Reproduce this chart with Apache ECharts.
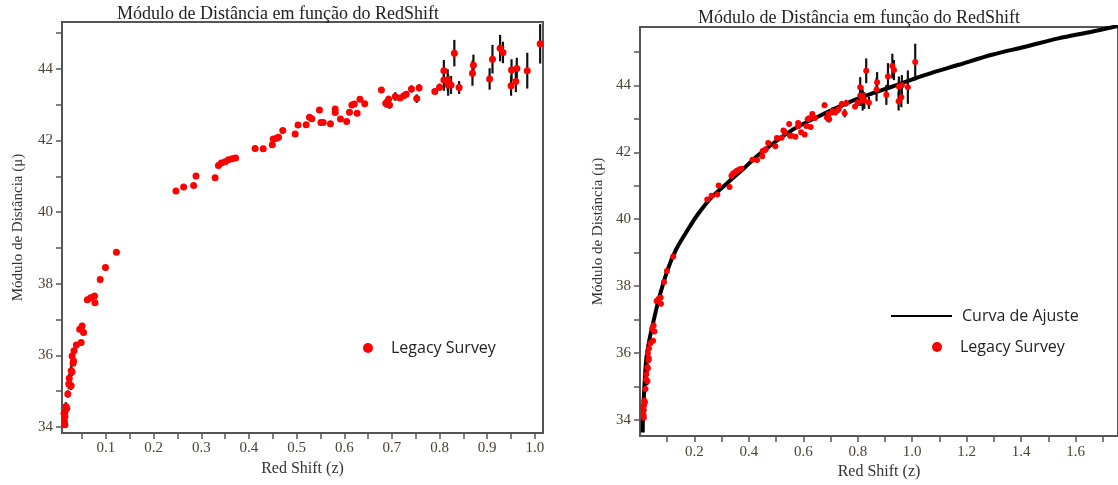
<!DOCTYPE html>
<html>
<head>
<meta charset="utf-8">
<title>Módulo de Distância em função do RedShift</title>
<script src="https://cdn.jsdelivr.net/npm/echarts@6/dist/echarts.min.js"></script>
<style>
  html, body { margin: 0; padding: 0; background: #fff; }
  #chart { width: 1118px; height: 485px; }
</style>
</head>
<body>
<div id="chart"></div>
<script>
// Legacy Survey sample
const redshift = [
  0.012, 0.013, 0.014, 0.014, 0.014, 0.016, 0.018, 0.020, 0.022, 0.023,
  0.027, 0.027, 0.029, 0.029, 0.031, 0.032, 0.033, 0.038, 0.045, 0.048,
  0.050, 0.053, 0.061, 0.068, 0.076, 0.077, 0.088, 0.099, 0.122,
  0.247, 0.263, 0.284, 0.289, 0.329, 0.336, 0.342, 0.350, 0.357, 0.365,
  0.372, 0.413, 0.430, 0.449, 0.451, 0.458, 0.462, 0.471, 0.497, 0.503,
  0.520, 0.527, 0.532, 0.548, 0.551, 0.556, 0.571, 0.581, 0.581, 0.592,
  0.605, 0.611, 0.616, 0.621, 0.627, 0.633, 0.643,
  0.678, 0.687, 0.693, 0.695, 0.707, 0.717, 0.725, 0.730, 0.741, 0.752,
  0.757, 0.790, 0.800, 0.809, 0.809, 0.817, 0.818, 0.824, 0.831, 0.841,
  0.869, 0.871, 0.905, 0.911, 0.927, 0.933, 0.950, 0.951, 0.960, 0.962,
  0.984, 1.011,
];
const distMod = [
  34.38, 34.15, 34.06, 34.29, 34.43, 34.57, 34.52, 34.92, 35.20, 35.36,
  35.15, 35.57, 35.54, 35.98, 35.78, 35.84, 36.13, 36.29, 36.73, 36.36,
  36.82, 36.64, 37.55, 37.61, 37.66, 37.47, 38.12, 38.45, 38.88,
  40.59, 40.70, 40.74, 41.01, 40.96, 41.30, 41.37, 41.41, 41.46, 41.49,
  41.51, 41.78, 41.77, 41.88, 42.04, 42.06, 42.09, 42.28, 42.18, 42.43,
  42.44, 42.65, 42.61, 42.85, 42.50, 42.50, 42.47, 42.88, 42.78, 42.60,
  42.53, 42.79, 42.99, 43.02, 42.76, 43.15, 43.03,
  43.41, 43.04, 43.15, 42.99, 43.23, 43.19, 43.25, 43.29, 43.44, 43.17,
  43.47, 43.37, 43.49, 43.95, 43.69, 43.69, 43.55, 43.55, 44.44, 43.48,
  43.88, 44.10, 43.72, 44.27, 44.58, 44.46, 43.53, 43.97, 43.65, 44.01,
  43.95, 44.70,
];
// half length of the error bars (0 = none visible)
const distErr = [
  0, 0, 0, 0, 0, 0.12, 0, 0.1, 0.15, 0.12,
  0.12, 0.15, 0.12, 0, 0, 0, 0, 0, 0, 0,
  0, 0, 0, 0, 0, 0, 0, 0, 0,
  0, 0, 0, 0, 0, 0, 0, 0, 0, 0,
  0, 0, 0, 0, 0, 0, 0, 0, 0, 0,
  0, 0, 0, 0, 0, 0, 0, 0, 0, 0,
  0, 0, 0, 0, 0, 0, 0,
  0.08, 0.12, 0.1, 0.1, 0.12, 0.08, 0.08, 0.08, 0.1, 0.12,
  0.1, 0.08, 0.1, 0.3, 0.3, 0.3, 0.3, 0.25, 0.37, 0.18,
  0.35, 0.3, 0.3, 0.4, 0.37, 0.3, 0.28, 0.3, 0.3, 0.3,
  0.5, 0.55,
];

// fitted curve (right panel)
const fitZ = [
  0.010, 0.011, 0.017, 0.023, 0.035, 0.054, 0.072, 0.102, 0.133, 0.176,
  0.212, 0.261, 0.322, 0.383, 0.439, 0.561, 0.683, 0.805, 0.927, 1.049,
  1.171, 1.293, 1.415, 1.537, 1.659, 1.756,
];
const fitMu = [
  33.62, 34.12, 35.12, 35.81, 36.41, 37.10, 37.70, 38.50, 39.10, 39.69,
  40.14, 40.64, 41.09, 41.53, 41.95, 42.68, 43.18, 43.62, 43.97, 44.32,
  44.62, 44.92, 45.16, 45.41, 45.61, 45.78,
];

// ticks and labels
const leftXTicks = [0.05, 0.1, 0.15, 0.2, 0.25, 0.3, 0.35, 0.4, 0.45, 0.5, 0.55, 0.6, 0.65, 0.7, 0.75, 0.8, 0.85, 0.9, 0.95, 1.0];
const leftXLabels = [0.1, 0.2, 0.3, 0.4, 0.5, 0.6, 0.7, 0.8, 0.9, 1.0];
const rightXTicks = [0.1, 0.2, 0.3, 0.4, 0.5, 0.6, 0.7, 0.8, 0.9, 1.0, 1.1, 1.2, 1.3, 1.4, 1.5, 1.6, 1.7];
const rightXLabels = [0.2, 0.4, 0.6, 0.8, 1.0, 1.2, 1.4, 1.6];
const yTicks = [34, 35, 36, 37, 38, 39, 40, 41, 42, 43, 44, 45];
const yLabels = [34, 36, 38, 40, 42, 44];

const titleText = "Módulo de Distância em função do RedShift";
const xName = "Red Shift (z)";
const yName = "Módulo de Distância (μ)";

const points = redshift.map((z, i) => [z, distMod[i]]);
const errBars = [];
redshift.forEach((z, i) => {
  if (distErr[i] > 0) {
    errBars.push([z, distMod[i] - distErr[i], distMod[i] + distErr[i]]);
  }
});
const fitLine = fitZ.map((z, i) => [z, fitMu[i]]);

const serif = "Liberation Serif";
const axisColor = "#555";
const labelColor = "#4a4236";
const legendFont = { fontFamily: "Open Sans", fontSize: 16, color: "#222" };

function xAxisOpt(gridIndex, min, max, ticks, labels) {
  return {
    type: "value",
    gridIndex: gridIndex,
    min: min,
    max: max,
    name: xName,
    nameLocation: "middle",
    nameGap: 27,
    nameTextStyle: { fontFamily: serif, fontSize: 16, color: "#333" },
    axisLine: { lineStyle: { color: axisColor, width: 2 } },
    axisTick: { customValues: ticks, length: 6, lineStyle: { color: axisColor, width: 1.5 } },
    axisLabel: {
      customValues: labels,
      margin: 8,
      formatter: (v) => v.toFixed(1),
      fontFamily: serif,
      fontSize: 15,
      color: labelColor,
    },
    splitLine: { show: false },
  };
}

function yAxisOpt(gridIndex, min, max, gap) {
  return {
    type: "value",
    gridIndex: gridIndex,
    min: min,
    max: max,
    name: yName,
    nameLocation: "middle",
    nameGap: gap,
    nameTextStyle: { fontFamily: serif, fontSize: 15, color: "#333" },
    axisLine: { lineStyle: { color: axisColor, width: 2 } },
    axisTick: { customValues: yTicks, length: 6, lineStyle: { color: axisColor, width: 1.5 } },
    axisLabel: {
      customValues: yLabels,
      margin: 9,
      fontFamily: serif,
      fontSize: 15,
      color: labelColor,
    },
    splitLine: { show: false },
  };
}

function errRender(params, api) {
  const top = api.coord([api.value(0), api.value(2)]);
  const bottom = api.coord([api.value(0), api.value(1)]);
  return {
    type: "line",
    shape: { x1: top[0], y1: top[1], x2: bottom[0], y2: bottom[1] },
    style: { stroke: "#111", lineWidth: 2.2 },
  };
}

const chart = echarts.init(document.getElementById("chart"), null, { renderer: "canvas" });

chart.setOption({
  backgroundColor: "#fff",
  animation: false,
  title: [
    {
      text: titleText,
      left: 112,
      top: 0,
      textStyle: { fontFamily: serif, fontSize: 18, fontWeight: "normal", color: "#222" },
    },
    {
      text: titleText,
      left: 693,
      top: 4,
      textStyle: { fontFamily: serif, fontSize: 18, fontWeight: "normal", color: "#222" },
    },
  ],
  legend: [
    {
      data: [{ name: "Legacy Survey", icon: "circle" }],
      left: 358,
      top: 335,
      itemWidth: 26,
      itemHeight: 10,
      selectedMode: false,
      textStyle: Object.assign({ padding: [0, 0, 0, 5] }, legendFont),
    },
    {
      data: [{ name: "Curva de Ajuste", icon: "rect" }],
      left: 886,
      top: 303,
      itemWidth: 61,
      itemHeight: 2,
      selectedMode: false,
      itemStyle: { color: "#000" },
      textStyle: Object.assign({ padding: [0, 0, 0, 5] }, legendFont),
    },
    {
      data: [{ name: "Legacy Survey", icon: "circle" }],
      left: 927,
      top: 334,
      itemWidth: 26,
      itemHeight: 10,
      selectedMode: false,
      textStyle: Object.assign({ padding: [0, 0, 0, 5] }, legendFont),
    },
  ],
  grid: [
    { left: 62, top: 22, width: 481, height: 411, show: true, borderColor: axisColor, borderWidth: 2 },
    { left: 640, top: 27, width: 480, height: 410, show: true, borderColor: axisColor, borderWidth: 2 },
  ],
  xAxis: [
    xAxisOpt(0, 0.0078, 1.017, leftXTicks, leftXLabels),
    xAxisOpt(1, 0, 1.756, rightXTicks, rightXLabels),
  ],
  yAxis: [
    yAxisOpt(0, 33.83, 45.31, 36),
    yAxisOpt(1, 33.51, 45.75, 34),
  ],
  series: [
    {
      name: "erro",
      type: "custom",
      xAxisIndex: 0,
      yAxisIndex: 0,
      renderItem: errRender,
      encode: { x: 0, y: [1, 2] },
      data: errBars,
      z: 2,
    },
    {
      name: "Legacy Survey",
      type: "scatter",
      xAxisIndex: 0,
      yAxisIndex: 0,
      symbolSize: 7,
      itemStyle: { color: "#ff0000", opacity: 1 },
      data: points,
      z: 3,
    },
    {
      name: "Curva de Ajuste",
      type: "line",
      xAxisIndex: 1,
      yAxisIndex: 1,
      smooth: 0.3,
      showSymbol: false,
      symbol: "none",
      lineStyle: { color: "#000", width: 4 },
      itemStyle: { color: "#000" },
      data: fitLine,
      z: 1,
    },
    {
      name: "erro",
      type: "custom",
      xAxisIndex: 1,
      yAxisIndex: 1,
      renderItem: errRender,
      encode: { x: 0, y: [1, 2] },
      data: errBars,
      z: 2,
    },
    {
      name: "Legacy Survey",
      type: "scatter",
      xAxisIndex: 1,
      yAxisIndex: 1,
      symbolSize: 6,
      itemStyle: { color: "#ff0000", opacity: 1 },
      data: points,
      z: 3,
    },
  ],
});
</script>
</body>
</html>
